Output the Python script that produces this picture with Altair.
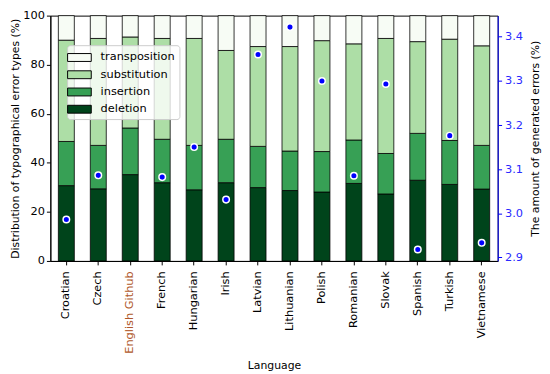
import altair as alt
import pandas as pd

languages = ["Croatian", "Czech", "English Github", "French", "Hungarian", "Irish",
             "Latvian", "Lithuanian", "Polish", "Romanian", "Slovak", "Spanish",
             "Turkish", "Vietnamese"]
deletion = [30.7, 29.4, 35.2, 31.9, 29.0, 31.9, 29.9, 28.7, 28.1, 31.6, 27.3, 32.9, 31.2, 29.3]
insertion = [18.0, 17.7, 19.0, 17.7, 18.1, 17.7, 16.8, 16.1, 16.5, 17.7, 16.5, 19.1, 17.9, 17.8]
substitution = [41.3, 43.6, 37.1, 41.1, 43.6, 36.2, 40.7, 42.6, 45.2, 39.2, 46.9, 37.4, 41.3, 40.6]
transposition = [10.0, 9.3, 8.7, 9.3, 9.3, 14.2, 12.6, 12.6, 10.2, 11.5, 9.3, 10.6, 9.6, 12.3]
generated_errors = [2.986, 3.086, None, 3.082, 3.150, 3.031, 3.360, 3.422, 3.300, 3.085,
                    3.293, 2.918, 3.176, 2.933]

legend_order = ["transposition", "substitution", "insertion", "deletion"]
stack_order = ["deletion", "insertion", "substitution", "transposition"]
colors = ["#f7fcf5", "#addea6", "#37a055", "#00441b"]

series = {"deletion": deletion, "insertion": insertion,
          "substitution": substitution, "transposition": transposition}
rows = []
for t in stack_order:
    for lang, v in zip(languages, series[t]):
        rows.append({"Language": lang, "type": t, "value": v, "rank": stack_order.index(t)})
df = pd.DataFrame(rows)

dots_df = pd.DataFrame({"Language": languages, "errors": generated_errors}).dropna()

FONT = "DejaVu Sans"
FS = 11.5
TFS = 11

x_enc = alt.X(
    "Language:N", sort=languages,
    scale=alt.Scale(paddingInner=0.5, paddingOuter=0.25),
    axis=alt.Axis(title="Language", labelAngle=270, tickSize=4, labelPadding=6,
                  titlePadding=7, labelFontSize=FS, titleFontSize=TFS,
                  titleFontWeight="normal", domainColor="black", tickColor="black",
                  titleColor="black",
                  labelColor=alt.ExprRef(expr="datum.value == 'English Github' ? '#b0582a' : 'black'")),
)

bars = alt.Chart(df).mark_bar(stroke="black", strokeWidth=0.8, opacity=1).encode(
    x=x_enc,
    y=alt.Y("value:Q", stack="zero",
            scale=alt.Scale(domain=[0, 100], nice=False),
            axis=alt.Axis(values=[0, 20, 40, 60, 80, 100],
                          title="Distribution of typographical error types (%)",
                          grid=False, tickSize=4, labelPadding=2, titlePadding=2,
                          labelFontSize=FS, titleFontSize=TFS, titleFontWeight="normal",
                          domainColor="black", tickColor="black", labelColor="black",
                          titleColor="black")),
    color=alt.Color("type:N", scale=alt.Scale(domain=legend_order, range=colors),
                    legend=alt.Legend(title=None, orient="none", legendX=17, legendY=30,
                                      symbolType="M-1.5,-0.5H1.5V0.5H-1.5Z", symbolSize=256,
                                      symbolStrokeColor="black", symbolStrokeWidth=1,
                                      symbolOpacity=1, labelFontSize=FS, labelOffset=13,
                                      labelColor="black",
                                      fillColor="rgba(255,255,255,0.8)",
                                      strokeColor="#cccccc", padding=4, cornerRadius=3,
                                      rowPadding=2.5)),
    order=alt.Order("rank:Q", sort="ascending"),
)

dots = alt.Chart(dots_df).mark_circle(color="#0000ff", stroke="white", strokeWidth=1.5,
                                      size=44, opacity=1).encode(
    x=x_enc,
    y=alt.Y("errors:Q",
            scale=alt.Scale(domain=[2.892, 3.448], nice=False, zero=False),
            axis=alt.Axis(orient="right", values=[2.9, 3.0, 3.1, 3.2, 3.3, 3.4],
                          format=".1f", title="The amount of generated errors (%)",
                          grid=False, tickSize=4, labelPadding=3, titlePadding=7,
                          labelFontSize=FS, titleFontSize=TFS, titleFontWeight="normal",
                          domainColor="#0000ff", tickColor="#0000ff",
                          labelColor="#2a2aff", titleColor="black",
                          titleAngle=270, titleBaseline="top")),
)

chart = alt.layer(bars, dots).resolve_scale(y="independent").properties(
    width=454, height=249,
    autosize=alt.AutoSizeParams(type="none"),
    padding={"left": 43, "top": 5, "right": 45, "bottom": 112},
).configure(font=FONT).configure_view(stroke="black", strokeWidth=1)

chart.save("out.html", embed_options={"renderer": "svg", "actions": False})
